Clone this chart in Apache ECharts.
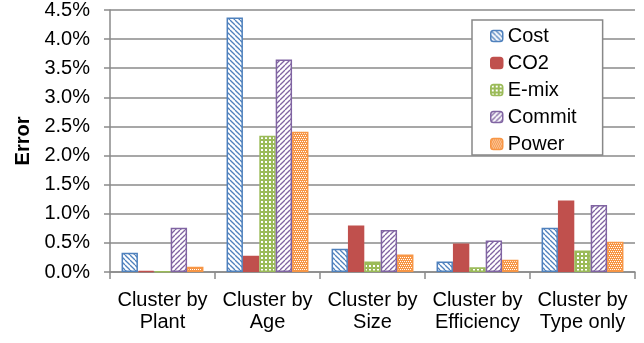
<!DOCTYPE html>
<html>
<head>
<meta charset="utf-8">
<script src="https://cdn.jsdelivr.net/npm/echarts@6/dist/echarts.min.js"></script>
<style>
  html, body { margin: 0; padding: 0; background: #fff; }
  #chart { width: 644px; height: 343px; }
</style>
</head>
<body>
<div id="chart"></div>
<script>
// Categories and error values (fractions) per method
const categories = ['Cluster by\nPlant', 'Cluster by\nAge', 'Cluster by\nSize', 'Cluster by\nEfficiency', 'Cluster by\nType only'];
const costValues   = [0.0033, 0.0437, 0.0040, 0.0018, 0.0076];
const co2Values    = [0.0002, 0.0028, 0.0080, 0.0049, 0.0123];
const emixValues   = [0.0001, 0.0234, 0.0018, 0.0008, 0.0037];
const commitValues = [0.0076, 0.0365, 0.0072, 0.0054, 0.0115];
const powerValues  = [0.0009, 0.0241, 0.0030, 0.0021, 0.0052];
const yTicks = { min: 0, max: 0.045, step: 0.005 };

// Fill patterns for the bars
function tile(size, draw) {
  const c = document.createElement('canvas');
  c.width = size; c.height = size;
  const g = c.getContext('2d');
  draw(g, size);
  return { image: c, repeat: 'repeat' };
}
function hatch(color, dir) {
  return tile(5, (g, s) => {
    g.fillStyle = '#fff'; g.fillRect(0, 0, s, s);
    g.strokeStyle = color; g.lineWidth = 1.3;
    for (let k = -1; k <= 1; k++) {
      g.beginPath();
      if (dir > 0) { g.moveTo(k * s, 0); g.lineTo(k * s + s, s); }
      else { g.moveTo(k * s + s, 0); g.lineTo(k * s, s); }
      g.stroke();
    }
  });
}
const costFill = hatch('#4F81BD', 1);
const commitFill = hatch('#8064A2', -1);
// green grid with white square holes
const emixFill = tile(4, (g, s) => {
  g.fillStyle = '#9BBB59'; g.fillRect(0, 0, s, s);
  g.fillStyle = '#fff';
  g.fillRect(1, 1, 2, 2);
});
// orange with sparse white dots
const powerFill = tile(4, (g, s) => {
  g.fillStyle = '#F79646'; g.fillRect(0, 0, s, s);
  g.fillStyle = '#fff';
  g.fillRect(0, 1, 1, 1); g.fillRect(2, 1, 1, 1);
  g.fillRect(1, 3, 1, 1); g.fillRect(3, 3, 1, 1);
});

const gridColor = '#8a8a8a';
const font = 'Liberation Sans, Arial, sans-serif';

function barSeries(name, data, fill, border) {
  return {
    name, type: 'bar', data,
    barGap: '0%', barCategoryGap: '22%',
    itemStyle: { color: fill, borderColor: border, borderWidth: 1.5 }
  };
}

const chart = echarts.init(document.getElementById('chart'));
chart.setOption({
  animation: false,
  backgroundColor: '#fff',
  textStyle: { fontFamily: font },
  grid: { left: 110, right: 9, top: 10, bottom: 71, containLabel: false, outerBoundsMode: 'none' },
  legend: {
    orient: 'vertical', left: 472, top: 20,
    padding: [6, 26, 1, 18],
    backgroundColor: '#fff', borderColor: '#888', borderWidth: 1.5,
    itemWidth: 12, itemHeight: 11, itemGap: 7,
    textStyle: { fontSize: 20, color: '#000', fontFamily: font, lineHeight: 20 },
    data: [
      { name: 'Cost', itemStyle: { color: costFill, borderColor: '#4F81BD', borderWidth: 1.5 } },
      { name: 'CO2', itemStyle: { color: '#C0504D', borderColor: '#C0504D', borderWidth: 1.5 } },
      { name: 'E-mix', itemStyle: { color: emixFill, borderColor: '#9BBB59', borderWidth: 1.5 } },
      { name: 'Commit', itemStyle: { color: commitFill, borderColor: '#8064A2', borderWidth: 1.5 } },
      { name: 'Power', itemStyle: { color: powerFill, borderColor: '#F79646', borderWidth: 1.5 } }
    ]
  },
  xAxis: {
    type: 'category', data: categories,
    axisLine: { lineStyle: { color: gridColor, width: 1.5 } },
    axisTick: { show: true, length: 7, lineStyle: { color: gridColor, width: 1.5 } },
    axisLabel: { fontSize: 20, color: '#000', lineHeight: 22, margin: 17, fontFamily: font, interval: 0 }
  },
  yAxis: {
    type: 'value', min: yTicks.min, max: yTicks.max, interval: yTicks.step,
    name: 'Error', nameLocation: 'middle', nameRotate: 90, nameGap: 75,
    nameTextStyle: { fontSize: 20, fontWeight: 'bold', color: '#000', fontFamily: font },
    axisLine: { show: true, lineStyle: { color: gridColor, width: 1.5 } },
    axisTick: { show: true, length: 6, lineStyle: { color: gridColor, width: 1.5 } },
    axisLabel: { fontSize: 20, color: '#000', margin: 20, fontFamily: font,
      formatter: v => (v * 100).toFixed(1) + '%' },
    splitLine: { lineStyle: { color: gridColor, width: 1.5 } }
  },
  series: [
    barSeries('Cost', costValues, costFill, '#4F81BD'),
    barSeries('CO2', co2Values, '#C0504D', '#C0504D'),
    barSeries('E-mix', emixValues, emixFill, '#9BBB59'),
    barSeries('Commit', commitValues, commitFill, '#8064A2'),
    barSeries('Power', powerValues, powerFill, '#F79646')
  ]
});
</script>
</body>
</html>
